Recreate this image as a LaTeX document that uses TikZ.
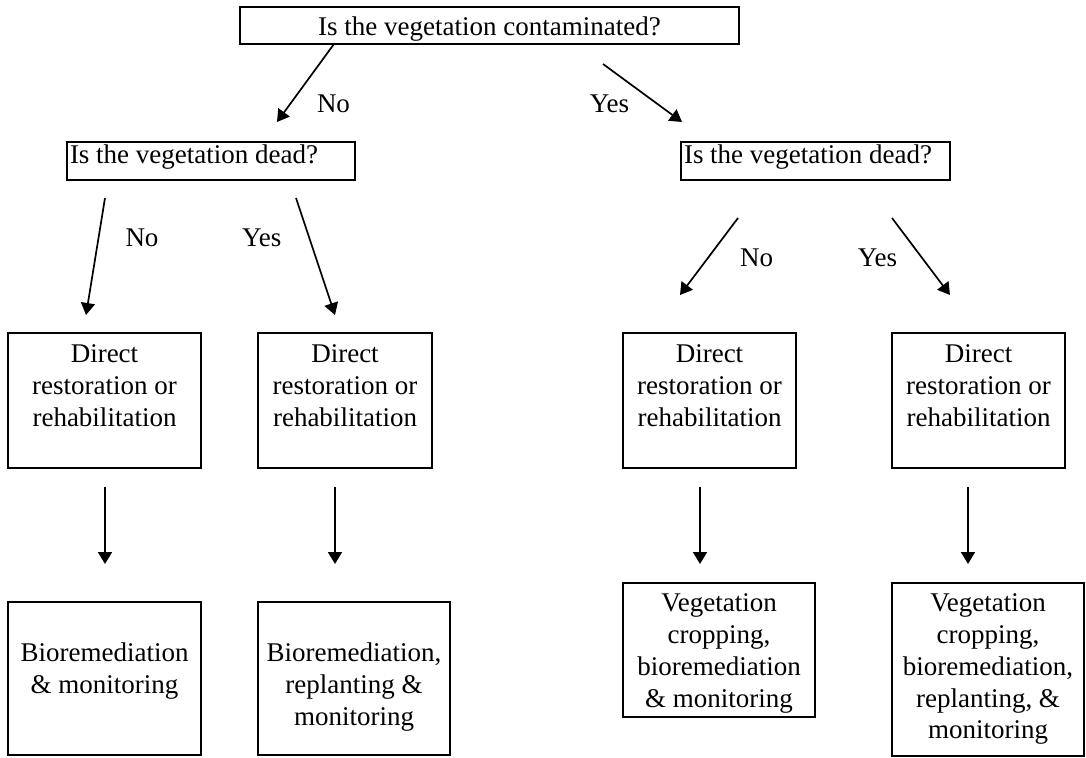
\documentclass[tikz,border=0pt]{standalone}
\usepackage{fontspec}
\setmainfont{Liberation Serif}
\usetikzlibrary{arrows.meta}

% text block of fixed size: width, height, first baseline from top, alignment, text
\newcommand\celltext[5]{\parbox[c][#2][t]{#1}{#4\vspace*{\dimexpr#3-22.2pt\relax}\strut#5\par}}

\begin{document}
\begin{tikzpicture}[x=1pt,y=-1pt,
  font=\fontsize{27}{31.7}\selectfont,
  cell/.style={draw, line width=1.8pt, inner sep=0pt, outer sep=0pt, anchor=north west},
  arr/.style={line width=1.7pt, -{Triangle[length=12pt,width=14pt]}},
  tag/.style={anchor=base, inner sep=0pt}]

\useasboundingbox (0,0) rectangle (1086,757);

% question boxes
\node[cell] (top) at (240,7)
  {\celltext{499pt}{37pt}{29pt}{\centering}{Is the vegetation contaminated?}};
\node[cell] (midL) at (67,142)
  {\celltext{288pt}{38pt}{22pt}{\raggedright}{\hspace*{3pt}Is the vegetation dead?}};
\node[cell] (midR) at (681,142)
  {\celltext{269pt}{38pt}{22pt}{\raggedright}{\hspace*{3pt}Is the vegetation dead?}};

% treatment boxes
\node[cell] (d1) at (8,333)
  {\celltext{193pt}{135pt}{30pt}{\centering}{Direct\\restoration or\\rehabilitation}};
\node[cell] (d2) at (258,333)
  {\celltext{174pt}{135pt}{30pt}{\centering}{Direct\\restoration or\\rehabilitation}};
\node[cell] (d3) at (623,333)
  {\celltext{173pt}{135pt}{30pt}{\centering}{Direct\\restoration or\\rehabilitation}};
\node[cell] (d4) at (892,333)
  {\celltext{173pt}{135pt}{30pt}{\centering}{Direct\\restoration or\\rehabilitation}};

% follow-up boxes
\node[cell] (b1) at (8,602)
  {\celltext{193pt}{153pt}{60pt}{\centering}{Bioremediation\\\& monitoring}};
\node[cell] (b2) at (258,602)
  {\celltext{192pt}{153pt}{60pt}{\centering}{Bioremediation,\\replanting \&\\monitoring}};
\node[cell] (b3) at (623,583)
  {\celltext{192pt}{134pt}{29pt}{\centering}{Vegetation\\cropping,\\bioremediation\\\& monitoring}};
\node[cell] (b4) at (892,583)
  {\celltext{192pt}{173pt}{29pt}{\centering}{Vegetation\\cropping,\\bioremediation,\\replanting, \&\\monitoring}};

% branch arrows
\draw[arr] ([xshift=94pt]top.south west) -- ([xshift=210pt,yshift=20pt]midL.north west);
\draw[arr] ([xshift=363pt,yshift=-20pt]top.south west) -- ([xshift=1pt,yshift=20pt]midR.north west);
\draw[arr] ([xshift=38pt,yshift=-18pt]midL.south west) -- ([xshift=78pt,yshift=18pt]d1.north west);
\draw[arr] ([xshift=229pt,yshift=-18pt]midL.south west) -- ([xshift=77pt,yshift=18pt]d2.north west);
\draw[arr] ([xshift=57pt,yshift=-38pt]midR.south west) -- ([xshift=57pt,yshift=38pt]d3.north west);
\draw[arr] ([xshift=211pt,yshift=-38pt]midR.south west) -- ([xshift=58pt,yshift=38pt]d4.north west);

% downward arrows
\draw[arr] ([xshift=97pt,yshift=-19pt]d1.south west) -- ([xshift=97pt,yshift=38pt]b1.north west);
\draw[arr] ([xshift=77pt,yshift=-19pt]d2.south west) -- ([xshift=77pt,yshift=38pt]b2.north west);
\draw[arr] ([xshift=77pt,yshift=-19pt]d3.south west) -- ([xshift=77pt,yshift=19pt]b3.north west);
\draw[arr] ([xshift=76pt,yshift=-19pt]d4.south west) -- ([xshift=76pt,yshift=19pt]b4.north west);

% branch labels
\node[tag] (n1) at (333.5,112.7) {No};
\node[tag] (y1) at (609.5,112.7) {Yes};
\node[tag] (n2) at (142,246.7) {No};
\node[tag] (y2) at (261.7,246.7) {Yes};
\node[tag] (n3) at (756.7,266) {No};
\node[tag] (y3) at (877.5,266) {Yes};

\end{tikzpicture}
\end{document}
